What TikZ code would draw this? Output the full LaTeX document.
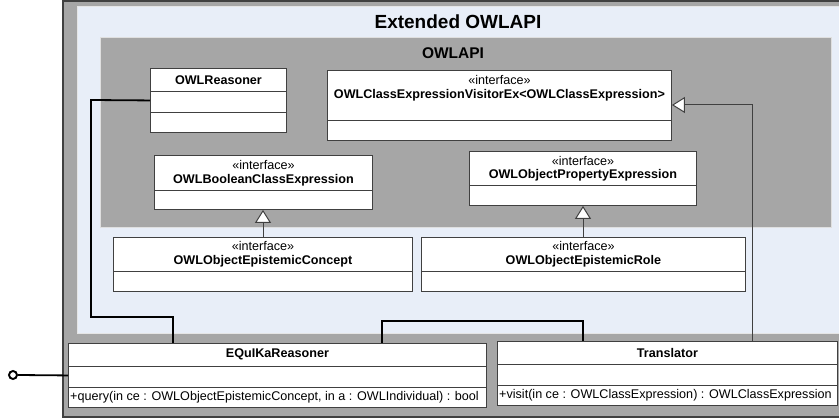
\documentclass[tikz,border=0pt]{standalone}
\usepackage{fontspec}
\setmainfont{Liberation Sans}
\usetikzlibrary{arrows.meta}
\definecolor{frame}{HTML}{A6A6A6}
\definecolor{paleblue}{HTML}{E8EEF8}
\definecolor{pkg}{HTML}{A6A6A6}
\definecolor{edge}{HTML}{404040}
\newcommand\fn{\fontsize{12.6}{14}\selectfont}
\tikzset{
  box/.style={draw=edge, fill=white, line width=0.9pt, anchor=north west, inner sep=0pt},
  div/.style={draw=edge, line width=0.9pt},
  stereo/.style={font=\fn, inner sep=0pt, anchor=center},
  cname/.style={font=\fn\bfseries, inner sep=0pt, anchor=center},
  meth/.style={font=\fn, inner sep=0pt, anchor=west},
  assoc/.style={draw=black, line width=1.8pt},
  gen/.style={draw=edge, line width=1pt, -{Triangle[length=13pt, width=16pt, fill=white]}},
}
\begin{document}
\begin{tikzpicture}[x=1pt, y=-1pt]
\useasboundingbox (0,0) rectangle (839,419);
% frames
\path[fill=frame, draw=edge, line width=1.5pt] (63,1) rectangle (850,417);
\path[fill=paleblue, draw=white!80!gray, line width=0.6pt] (77,6) rectangle (850,333);
\path[fill=pkg, draw=white!75!gray, line width=0.8pt] (100,37) rectangle (831,227);
\node[font=\fontsize{19}{22}\selectfont\bfseries, inner sep=0pt] (t1) at (458,22) {Extended OWLAPI};
\node[font=\fontsize{15.5}{18}\selectfont\bfseries, inner sep=0pt] (t2) at (453,53) {OWLAPI};

% OWLReasoner
\node[box, minimum width=136pt, minimum height=64pt] (reasoner) at (150,68) {};
\draw[div] ([yshift=-23pt]reasoner.north west) -- ([yshift=-23pt]reasoner.north east);
\draw[div] ([yshift=-44pt]reasoner.north west) -- ([yshift=-44pt]reasoner.north east);
\node[cname] (reasonerN) at ([yshift=-12pt]reasoner.north) {OWLReasoner};

% Visitor
\node[box, minimum width=344pt, minimum height=70pt] (visitor) at (327,70) {};
\draw[div] ([yshift=-50pt]visitor.north west) -- ([yshift=-50pt]visitor.north east);
\node[stereo] (visitorS) at ([yshift=-10pt]visitor.north) {«interface»};
\node[cname] (visitorN) at ([yshift=-25pt]visitor.north) {OWLClassExpressionVisitorEx<OWLClassExpression>};

% Boolean
\node[box, minimum width=218pt, minimum height=54pt] (boolean) at (154,155) {};
\draw[div] ([yshift=-35pt]boolean.north west) -- ([yshift=-35pt]boolean.north east);
\node[stereo] (booleanS) at ([yshift=-10pt]boolean.north) {«interface»};
\node[cname] (booleanN) at ([yshift=-25pt]boolean.north) {OWLBooleanClassExpression};

% Property
\node[box, minimum width=227pt, minimum height=54pt] (prop) at (469,151) {};
\draw[div] ([yshift=-34pt]prop.north west) -- ([yshift=-34pt]prop.north east);
\node[stereo] (propS) at ([yshift=-10pt]prop.north) {«interface»};
\node[cname] (propN) at ([yshift=-24pt]prop.north) {OWLObjectPropertyExpression};

% Concept
\node[box, minimum width=299pt, minimum height=54pt] (concept) at (113,237) {};
\draw[div] ([yshift=-34pt]concept.north west) -- ([yshift=-34pt]concept.north east);
\node[stereo] (conceptS) at ([yshift=-9pt]concept.north) {«interface»};
\node[cname] (conceptN) at ([yshift=-24pt]concept.north) {OWLObjectEpistemicConcept};

% Role
\node[box, minimum width=324pt, minimum height=54pt] (role) at (421,237) {};
\draw[div] ([yshift=-34pt]role.north west) -- ([yshift=-34pt]role.north east);
\node[stereo] (roleS) at ([yshift=-9pt]role.north) {«interface»};
\node[cname] (roleN) at ([yshift=-24pt]role.north) {OWLObjectEpistemicRole};

% EQuIKaReasoner
\node[box, minimum width=418pt, minimum height=64pt] (equika) at (68,343) {};
\draw[div] ([yshift=-23pt]equika.north west) -- ([yshift=-23pt]equika.north east);
\draw[div] ([yshift=-44pt]equika.north west) -- ([yshift=-44pt]equika.north east);
\node[cname] (equikaN) at ([yshift=-11.5pt]equika.north) {EQuIKaReasoner};
\node[meth] (equikaM) at ([xshift=2pt, yshift=-54.5pt]equika.north west) {+query(in ce : OWLObjectEpistemicConcept, in a : OWLIndividual) : bool};

% Translator
\node[box, minimum width=340pt, minimum height=64pt] (translator) at (497,341) {};
\draw[div] ([yshift=-23pt]translator.north west) -- ([yshift=-23pt]translator.north east);
\draw[div] ([yshift=-44pt]translator.north west) -- ([yshift=-44pt]translator.north east);
\node[cname] (translatorN) at ([yshift=-11.5pt]translator.north) {Translator};
\node[meth] (translatorM) at ([xshift=2pt, yshift=-54.5pt]translator.north west) {+visit(in ce : OWLClassExpression) : OWLClassExpression};

% connectors
\coordinate (a1) at (91,100);
\coordinate (a2) at (91,317);
\coordinate (a3) at (173,317);
\draw[assoc] (reasoner.west) -- (a1) -- (a2) -- (a3) -- (a3 |- equika.north);
\coordinate (b1) at (382,321);
\coordinate (b2) at (583,321);
\draw[assoc] (b1 |- equika.north) -- (b1) -- (b2) -- (b2 |- translator.north);

\coordinate (g1) at (263,0);
\draw[gen] (g1 |- concept.north) -- (g1 |- boolean.south);
\coordinate (g2) at (583,0);
\draw[gen] (g2 |- role.north) -- (g2 |- prop.south);
\coordinate (g3) at (752,105);
\draw[gen] (g3 |- translator.north) -- (g3) -- (g3 -| visitor.east);

\node[circle, draw=black, line width=1.9pt, fill=white, minimum size=8pt, inner sep=0pt] (lol) at (13,375) {};
\draw[assoc] (equika.west) -- (lol.east);
\end{tikzpicture}
\end{document}
